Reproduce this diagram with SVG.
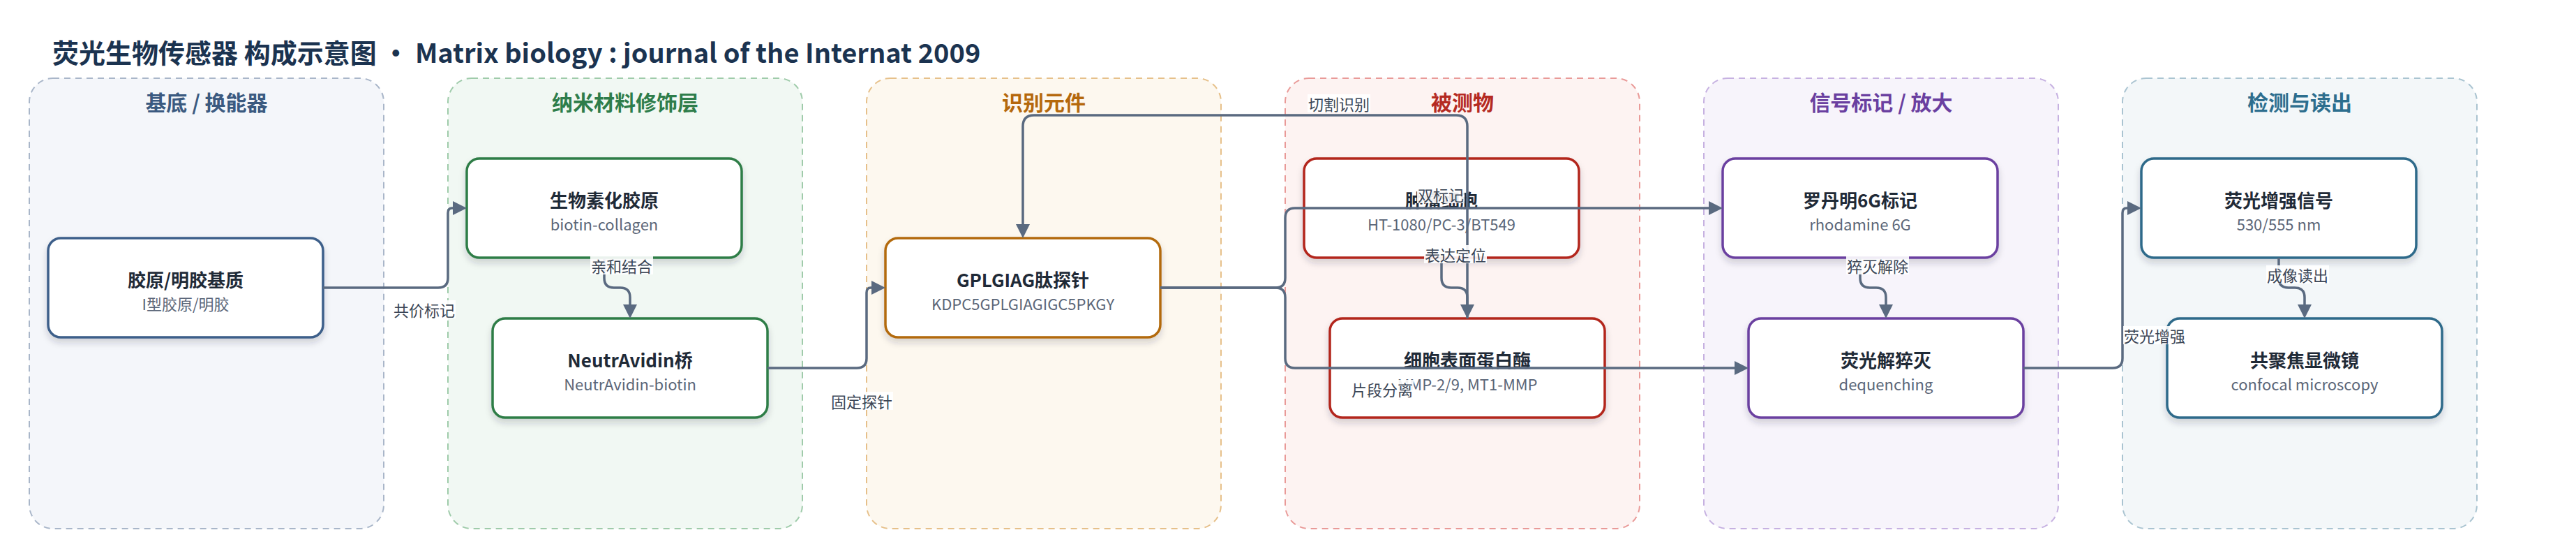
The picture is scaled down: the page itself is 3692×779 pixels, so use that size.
<svg xmlns="http://www.w3.org/2000/svg" width="3692" height="779" viewBox="0 0 3692 779">
<style>
text{font-family:"Noto Sans CJK SC","Noto Sans",sans-serif}
.ttl{font-size:38px;font-weight:700;fill:#1b3350}
.gt{font-size:30px;font-weight:700;text-anchor:middle;dominant-baseline:central}
.grp{stroke-width:2;stroke-dasharray:9 7}
.nd{fill:#fff;stroke-width:3.5;filter:url(#sh)}
.nt{font-size:26px;font-weight:700;fill:#1f2a37;text-anchor:middle;dominant-baseline:central}
.ns{font-size:22px;fill:#5b6678;text-anchor:middle;dominant-baseline:central}
.e{fill:none;stroke:#5a6a80;stroke-width:3.5;marker-end:url(#ah)}
.lb{fill:#fff;opacity:0.9}
.lt{font-size:22px;fill:#3b4656;text-anchor:middle;dominant-baseline:central}
</style>
<defs>
<filter id="sh" x="-10%" y="-20%" width="120%" height="150%">
<feDropShadow dx="0" dy="6" stdDeviation="5" flood-color="#1e293b" flood-opacity="0.18"/>
</filter>
<marker id="ah" viewBox="0 0 20 20" refX="0" refY="10" markerWidth="20" markerHeight="20" markerUnits="userSpaceOnUse" orient="auto">
<path d="M0,0 L20,10 L0,20 z" fill="#5a6a80"/>
</marker>
</defs>
<rect width="3692" height="779" fill="#fff"/>
<text class="ttl" x="75" y="90">荧光生物传感器 构成示意图 · Matrix biology : journal of the Internat 2009</text>

<g id="group-substrate">
<rect class="grp" x="42" y="112" width="508" height="645" rx="34" fill="#f4f6fa" stroke="#a9b6c9"/>
<text class="gt" x="296" y="145" fill="#3b5a80">基底 / 换能器</text>
</g>
<g id="group-nano">
<rect class="grp" x="642" y="112" width="508" height="645" rx="34" fill="#f1f8f3" stroke="#9fcbaa"/>
<text class="gt" x="896" y="145" fill="#2e7d4a">纳米材料修饰层</text>
</g>
<g id="group-recog">
<rect class="grp" x="1242" y="112" width="508" height="645" rx="34" fill="#fdf8ef" stroke="#e6c08a"/>
<text class="gt" x="1496" y="145" fill="#b5680c">识别元件</text>
</g>
<g id="group-analyte">
<rect class="grp" x="1842" y="112" width="508" height="645" rx="34" fill="#fdf3f2" stroke="#e99a98"/>
<text class="gt" x="2096" y="145" fill="#b52a22">被测物</text>
</g>
<g id="group-signal">
<rect class="grp" x="2442" y="112" width="508" height="645" rx="34" fill="#f7f4fb" stroke="#c6b1e1"/>
<text class="gt" x="2696" y="145" fill="#6a3fa0">信号标记 / 放大</text>
</g>
<g id="group-detect">
<rect class="grp" x="3042" y="112" width="508" height="645" rx="34" fill="#f3f7f9" stroke="#aac4d1"/>
<text class="gt" x="3296" y="145" fill="#2d6e8e">检测与读出</text>
</g>

<g id="node-collagen">
<rect class="nd" x="69" y="341" width="394" height="142" rx="18" stroke="#3d5f8a"/>
<text class="nt" x="266" y="399">胶原/明胶基质</text>
<text class="ns" x="266" y="434">I型胶原/明胶</text>
</g>
<g id="node-biotin">
<rect class="nd" x="669" y="227" width="394" height="142" rx="18" stroke="#2e7d46"/>
<text class="nt" x="866" y="285">生物素化胶原</text>
<text class="ns" x="866" y="320">biotin-collagen</text>
</g>
<g id="node-neutravidin">
<rect class="nd" x="706" y="456" width="394" height="142" rx="18" stroke="#2e7d46"/>
<text class="nt" x="903" y="514">NeutrAvidin桥</text>
<text class="ns" x="903" y="549">NeutrAvidin-biotin</text>
</g>
<g id="node-probe">
<rect class="nd" x="1269" y="341" width="394" height="142" rx="18" stroke="#b36b0c"/>
<text class="nt" x="1466" y="399">GPLGIAG肽探针</text>
<text class="ns" x="1466" y="434">KDPC5GPLGIAGIGC5PKGY</text>
</g>
<g id="node-tumor">
<rect class="nd" x="1869" y="227" width="394" height="142" rx="18" stroke="#b3261e"/>
<text class="nt" x="2066" y="285">肿瘤细胞</text>
<text class="ns" x="2066" y="320">HT-1080/PC-3/BT549</text>
</g>
<g id="node-mmp">
<rect class="nd" x="1906" y="456" width="394" height="142" rx="18" stroke="#b3261e"/>
<text class="nt" x="2103" y="514">细胞表面蛋白酶</text>
<text class="ns" x="2103" y="549">MMP-2/9, MT1-MMP</text>
</g>
<g id="node-rhodamine">
<rect class="nd" x="2469" y="227" width="394" height="142" rx="18" stroke="#6b3fa0"/>
<text class="nt" x="2666" y="285">罗丹明6G标记</text>
<text class="ns" x="2666" y="320">rhodamine 6G</text>
</g>
<g id="node-dequench">
<rect class="nd" x="2506" y="456" width="394" height="142" rx="18" stroke="#6b3fa0"/>
<text class="nt" x="2703" y="514">荧光解猝灭</text>
<text class="ns" x="2703" y="549">dequenching</text>
</g>
<g id="node-signal">
<rect class="nd" x="3069" y="227" width="394" height="142" rx="18" stroke="#2e6a8a"/>
<text class="nt" x="3266" y="285">荧光增强信号</text>
<text class="ns" x="3266" y="320">530/555 nm</text>
</g>
<g id="node-confocal">
<rect class="nd" x="3106" y="456" width="394" height="142" rx="18" stroke="#2e6a8a"/>
<text class="nt" x="3303" y="514">共聚焦显微镜</text>
<text class="ns" x="3303" y="549">confocal microscopy</text>
</g>

<g id="connectors">
<path class="e" d="M463,412 H628 Q642,412 642,398 V305 Q642,298 648,298 H649"/>
<path class="e" d="M866,369 V398 Q866,412 880,412 H889 Q903,412 903,426 V436"/>
<path class="e" d="M1100,527 H1228 Q1242,527 1242,513 V419 Q1242,412 1248,412 H1249"/>
<path class="e" d="M2103,456 V181 Q2103,165 2087,165 H1482 Q1466,165 1466,181 V321"/>
<path class="e" d="M2066,369 V398 Q2066,412 2080,412 H2089 Q2103,412 2103,426 V436"/>
<path class="e" d="M1663,412 H1828 Q1842,412 1842,398 V312 Q1842,298 1856,298 H2449"/>
<path class="e" d="M1663,412 H1828 Q1842,412 1842,426 V513 Q1842,527 1856,527 H2486"/>
<path class="e" d="M2666,369 V398 Q2666,412 2680,412 H2689 Q2703,412 2703,426 V436"/>
<path class="e" d="M2900,527 H3028 Q3042,527 3042,513 V305 Q3042,298 3048,298 H3049"/>
<path class="e" d="M3266,369 V398 Q3266,412 3280,412 H3289 Q3303,412 3303,426 V436"/>
<rect class="lb" x="563" y="430" width="90" height="26"/><text class="lt" x="608" y="443">共价标记</text>
<rect class="lb" x="846" y="367" width="90" height="26"/><text class="lt" x="891" y="380">亲和结合</text>
<rect class="lb" x="1190" y="561" width="90" height="26"/><text class="lt" x="1235" y="574">固定探针</text>
<rect class="lb" x="1874" y="135" width="90" height="26"/><text class="lt" x="1919" y="148">切割识别</text>
<rect class="lb" x="2041" y="351" width="90" height="26"/><text class="lt" x="2086" y="364">表达定位</text>
<rect class="lb" x="2031" y="265" width="68" height="26"/><text class="lt" x="2065" y="278">双标记</text>
<rect class="lb" x="1936" y="544" width="90" height="26"/><text class="lt" x="1981" y="557">片段分离</text>
<rect class="lb" x="2646" y="367" width="90" height="26"/><text class="lt" x="2691" y="380">猝灭解除</text>
<rect class="lb" x="3043" y="467" width="90" height="26"/><text class="lt" x="3088" y="480">荧光增强</text>
<rect class="lb" x="3248" y="380" width="90" height="26"/><text class="lt" x="3293" y="393">成像读出</text>
</g>
</svg>
